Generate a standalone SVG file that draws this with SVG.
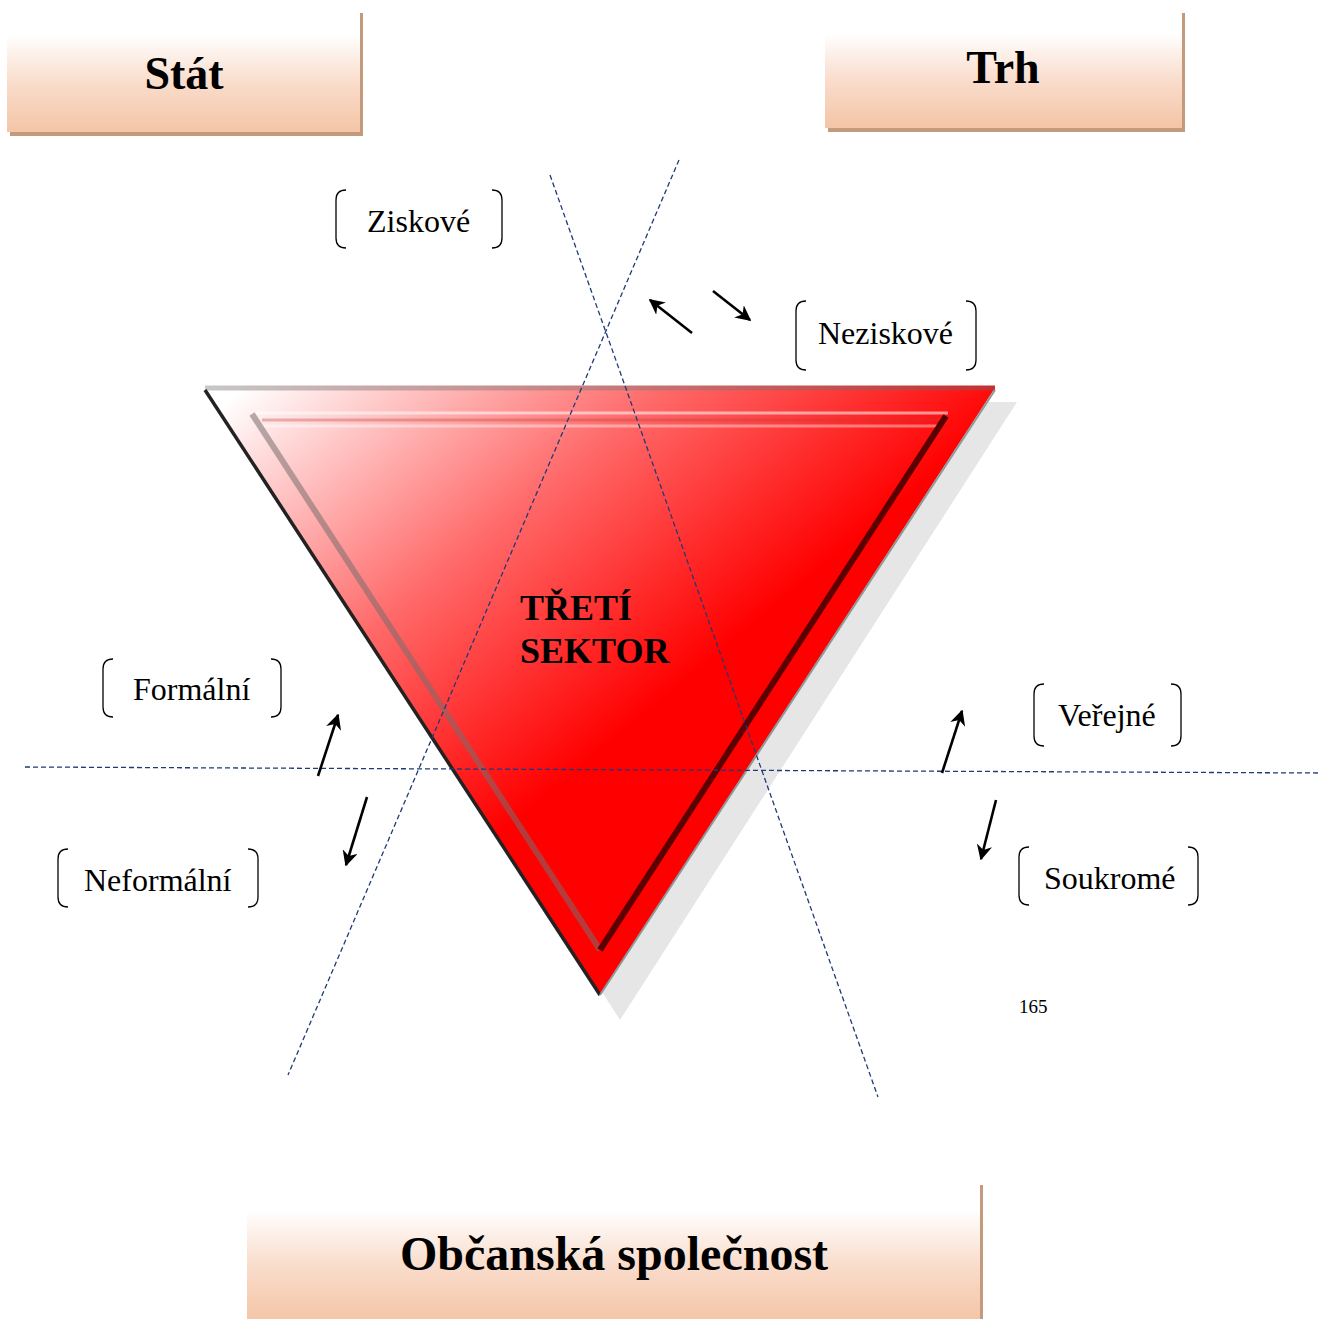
<svg xmlns="http://www.w3.org/2000/svg" width="1326" height="1319" viewBox="0 0 1326 1319">
<defs>
<linearGradient id="boxg" x1="0" y1="0" x2="0" y2="1">
<stop offset="0" stop-color="#ffffff"/>
<stop offset="0.2" stop-color="#ffffff"/>
<stop offset="0.6" stop-color="#f9dccb"/>
<stop offset="1" stop-color="#f4c5a6"/>
</linearGradient>
<linearGradient id="trig" gradientUnits="userSpaceOnUse" x1="240" y1="390" x2="620" y2="850">
<stop offset="0" stop-color="#ffffff"/>
<stop offset="0.45" stop-color="#ff6a6a"/>
<stop offset="0.85" stop-color="#ff0000"/>
<stop offset="1" stop-color="#ff0000"/>
</linearGradient>
<linearGradient id="topedge" gradientUnits="userSpaceOnUse" x1="203" y1="0" x2="995" y2="0">
<stop offset="0" stop-color="#c8c8c8"/>
<stop offset="1" stop-color="#c43030"/>
</linearGradient>
<marker id="ah" viewBox="0 0 10 10" refX="9" refY="5" markerWidth="6" markerHeight="6" orient="auto" markerUnits="strokeWidth">
<path d="M0,0 L10,5 L0,10 L3,5 z" fill="#000"/>
</marker>
<style>
.box{fill:url(#boxg);}
.shadow{fill:#c49a7c;}
.title{font-family:"Liberation Serif",serif;font-weight:bold;font-size:46px;fill:#000;text-anchor:middle;}
.lbl{font-family:"Liberation Serif",serif;font-size:32px;fill:#000;}
.br{fill:none;stroke:#000;stroke-width:1.3;}
.dash{fill:none;stroke:#1f3a7a;stroke-width:1.3;stroke-dasharray:5 3;}
.arr{fill:none;stroke:#000;stroke-width:2.6;marker-end:url(#ah);}
</style>
</defs>
<rect width="1326" height="1319" fill="#ffffff"/>

<g id="stat">
<rect class="shadow" x="10" y="13" width="353" height="123"/>
<rect class="box" x="7" y="10" width="353" height="122"/>
<text class="title" x="184" y="89">Stát</text>
</g>
<g id="trh">
<rect class="shadow" x="828" y="13" width="357" height="119"/>
<rect class="box" x="825" y="10" width="357" height="118"/>
<text class="title" x="1003" y="83">Trh</text>
</g>
<g id="obcanska">
<rect class="shadow" x="250" y="1185" width="733" height="140"/>
<rect class="box" x="247" y="1182" width="733" height="140"/>
<text class="title" x="614" y="1270" style="font-size:48px">Občanská společnost</text>
</g>

<g id="treti-sektor">
<polygon points="223,402 1017,402 620,1020" fill="#e6e6e6"/>
<polygon points="203,388 995,388 600,995" fill="url(#trig)"/>
<line x1="205" y1="388" x2="995" y2="388" stroke="url(#topedge)" stroke-width="5"/>
<line x1="205" y1="390" x2="600" y2="995" stroke="#222" stroke-width="3.5"/>
<line x1="995" y1="390" x2="600" y2="995" stroke="#8a9a9a" stroke-width="2"/>
<line x1="255" y1="413" x2="948" y2="413" stroke="rgba(255,255,255,0.55)" stroke-width="3"/>
<line x1="262" y1="420" x2="942" y2="420" stroke="rgba(190,60,60,0.35)" stroke-width="3"/>
<line x1="262" y1="426" x2="938" y2="426" stroke="rgba(255,255,255,0.4)" stroke-width="3"/>
<line x1="252" y1="414" x2="600" y2="950" stroke="rgba(120,110,110,0.55)" stroke-width="6"/>
<line x1="946" y1="416" x2="600" y2="950" stroke="#5a0000" stroke-width="6"/>
<text font-family="Liberation Serif, serif" font-weight="bold" font-size="36" fill="#000">
<tspan x="520" y="620">TŘETÍ</tspan>
<tspan x="520" y="663">SEKTOR</tspan>
</text>
</g>

<g id="connectors">
<line class="dash" x1="550" y1="175" x2="878" y2="1097"/>
<line class="dash" x1="679" y1="160" x2="288" y2="1075"/>
<line class="dash" x1="25" y1="767" x2="1320" y2="773"/>
<line class="arr" x1="692" y1="333" x2="650" y2="300"/>
<line class="arr" x1="713" y1="291" x2="750" y2="320"/>
<line class="arr" x1="318" y1="776" x2="338" y2="715"/>
<line class="arr" x1="367" y1="797" x2="346" y2="865"/>
<line class="arr" x1="942" y1="773" x2="962" y2="711"/>
<line class="arr" x1="996" y1="800" x2="981" y2="859"/>
</g>

<g id="ziskove">
<path class="br" d="M346,190 Q336,190 336,200 V238 Q336,248 346,248"/>
<path class="br" d="M492,190 Q502,190 502,200 V238 Q502,248 492,248"/>
<text class="lbl" x="367" y="232">Ziskové</text>
</g>
<g id="neziskove">
<path class="br" d="M806,301 Q796,301 796,311 V360 Q796,370 806,370"/>
<path class="br" d="M966,301 Q976,301 976,311 V360 Q976,370 966,370"/>
<text class="lbl" x="818" y="344">Neziskové</text>
</g>
<g id="formalni">
<path class="br" d="M113,659 Q103,659 103,669 V707 Q103,717 113,717"/>
<path class="br" d="M271,659 Q281,659 281,669 V707 Q281,717 271,717"/>
<text class="lbl" x="133" y="700">Formální</text>
</g>
<g id="neformalni">
<path class="br" d="M68,849 Q58,849 58,859 V897 Q58,907 68,907"/>
<path class="br" d="M248,849 Q258,849 258,859 V897 Q258,907 248,907"/>
<text class="lbl" x="84" y="891">Neformální</text>
</g>
<g id="verejne">
<path class="br" d="M1044,684 Q1034,684 1034,694 V736 Q1034,746 1044,746"/>
<path class="br" d="M1171,684 Q1181,684 1181,694 V736 Q1181,746 1171,746"/>
<text class="lbl" x="1058" y="726">Veřejné</text>
</g>
<g id="soukrome">
<path class="br" d="M1029,847 Q1019,847 1019,857 V895 Q1019,905 1029,905"/>
<path class="br" d="M1188,847 Q1198,847 1198,857 V895 Q1198,905 1188,905"/>
<text class="lbl" x="1044" y="889">Soukromé</text>
</g>
<text x="1019" y="1013" font-family="Liberation Serif, serif" font-size="19" fill="#000">165</text>
</svg>
